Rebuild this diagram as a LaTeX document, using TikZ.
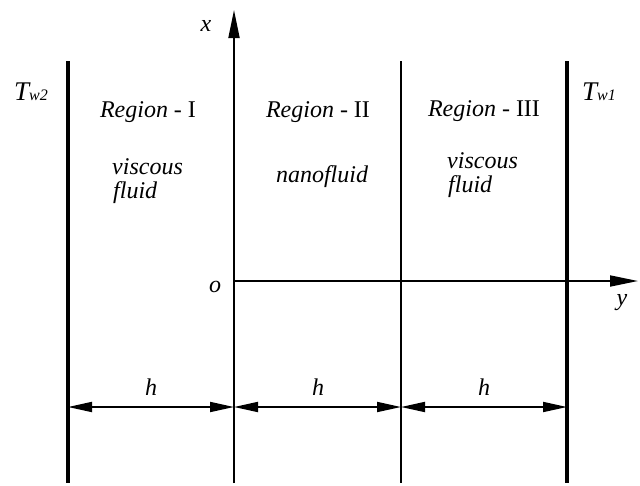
\documentclass[tikz,border=0pt]{standalone}
\usepackage{fontspec}
\setmainfont{Liberation Serif}
\usetikzlibrary{arrows.meta}
\begin{document}
\begin{tikzpicture}[x=1pt,y=-1pt,
  wall/.style={line width=4pt},
  thin/.style={line width=1.8pt},
  axisarrow/.style={line width=1.8pt,-{Triangle[length=28pt,width=11pt]}},
  dimarrow/.style={line width=1.8pt,{Triangle[length=24pt,width=10pt]}-{Triangle[length=24pt,width=10pt]}},
  lbl/.style={inner sep=0pt,anchor=base,font=\fontsize{24}{28}\selectfont\itshape},
  lblw/.style={inner sep=0pt,anchor=base west,font=\fontsize{24}{28}\selectfont\itshape}]
\useasboundingbox (0,0) rectangle (640,485);
% coordinates
\coordinate (lwT) at (68,61);   \coordinate (lwB) at (68,483);
\coordinate (axT) at (234,10);  \coordinate (axB) at (234,483);
\coordinate (mdT) at (401,61);  \coordinate (mdB) at (401,483);
\coordinate (rwT) at (567,61);  \coordinate (rwB) at (567,483);
\coordinate (o)   at (234,281); \coordinate (yT) at (638,281);
\coordinate (d1) at (68,407); \coordinate (d2) at (234,407);
\coordinate (d3) at (401,407); \coordinate (d4) at (567,407);
% walls and lines
\draw[wall] (lwT) -- (lwB);
\draw[wall] (rwT) -- (rwB);
\draw[thin] (mdT) -- (mdB);
\draw[axisarrow] (axB) -- (axT);
\draw[axisarrow] (o) -- (yT);
% dimension arrows
\draw[dimarrow] (d1) -- (d2);
\draw[dimarrow] (d2) -- (d3);
\draw[dimarrow] (d3) -- (d4);
% labels
\node[lbl] (xl) at (206,31) {x};
\node[lbl] (ol) at (215,292) {o};
\node[lbl] (yl) at (622,305) {y};
\node[lblw] (tw2) at (14,100) {\fontsize{27}{30}\selectfont T\fontsize{16}{18}\selectfont w2};
\node[lblw] (tw1) at (582,100) {\fontsize{27}{30}\selectfont T\fontsize{16}{18}\selectfont w1};
\node[lbl] (r1) at (148,117) {Region \upshape - I};
\node[lbl] (r2) at (318,117) {Region \upshape - II};
\node[lbl] (r3) at (484,116) {Region \upshape - III};
\node[lblw] (v1) at (112,174) {viscous};
\node[lblw] (f1) at (113,198) {fluid};
\node[lbl] (nf) at (322,182) {nanofluid};
\node[lblw] (v3) at (447,168) {viscous};
\node[lblw] (f3) at (448,192) {fluid};
\node[lbl] (h1) at (151,395) {h};
\node[lbl] (h2) at (318,395) {h};
\node[lbl] (h3) at (484,395) {h};
\end{tikzpicture}
\end{document}
